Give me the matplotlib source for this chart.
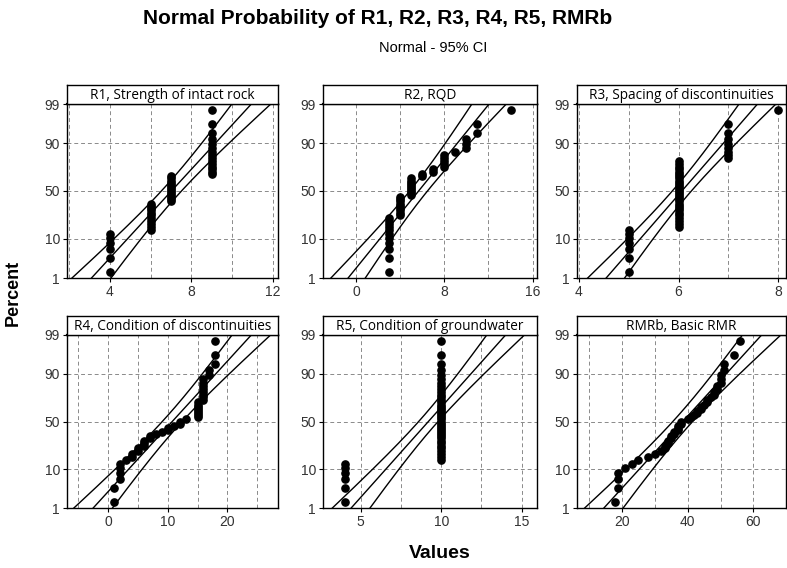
import numpy as np
import matplotlib
matplotlib.use("Agg")
import matplotlib.pyplot as plt
from statistics import NormalDist

nd = NormalDist()

# ---------------- data (value / count of observations) ----------------
titles = ["R1, Strength of intact rock", "R2, RQD", "R3, Spacing of discontinuities",
          "R4, Condition of discontinuities", "R5, Condition of groundwater", "RMRb, Basic RMR"]

r1_values = [4, 6, 7, 9]
r1_counts = [6, 11, 13, 15]
r2_values = [3, 4, 5, 6, 7, 8, 9, 10, 11, 14]
r2_counts = [11, 9, 9, 2, 2, 5, 1, 3, 2, 1]
r3_values = [5, 6, 7, 8]
r3_counts = [7, 29, 8, 1]
r4_values = [1, 2, 3, 4, 5, 6, 7, 8, 9, 10, 11, 12, 13, 15, 16, 17, 18]
r4_counts = [2, 4, 1, 2, 2, 3, 2, 1, 1, 2, 1, 2, 1, 8, 8, 2, 3]
r5_values = [4, 10]
r5_counts = [6, 39]
rmrb_values = [18, 19, 21, 23, 25, 28, 30, 32, 33, 34, 35, 36, 37, 38, 40, 41, 42,
               43, 44, 45, 46, 47, 48, 49, 50, 51, 54, 56]
rmrb_counts = [1, 3, 1, 1, 1, 1, 1, 1, 2, 2, 2, 2, 3, 2, 1, 1, 1,
               2, 2, 1, 2, 1, 2, 2, 3, 2, 1, 1]

series = [(r1_values, r1_counts), (r2_values, r2_counts), (r3_values, r3_counts),
          (r4_values, r4_counts), (r5_values, r5_counts), (rmrb_values, rmrb_counts)]

percent_ticks = [1, 10, 50, 90, 99]
xtick_labels = [[4, 8, 12], [0, 8, 16], [4, 6, 8], [0, 10, 20], [5, 10, 15], [20, 40, 60]]
xlims = [(1.9, 12.25), (-3.0, 16.4), (3.96, 8.16), (-6.9, 28.5), (2.65, 15.95), (6.4, 69.9)]
xgrid_step = [2, 4, 1, 5, 2.5, 10]

# ---------------- layout ----------------
W, H = 787, 568
fig = plt.figure(figsize=(W / 100, H / 100), dpi=100)
cols = [(67, 278), (323, 537), (577, 786)]
rows = [(104, 278), (335, 508)]
strip_h = 19

zlo, zhi = nd.inv_cdf(0.01), nd.inv_cdf(0.99)
zz = np.linspace(zlo - 0.05, zhi + 0.05, 200)
tick_font = dict(family="Liberation Sans", size=10, color="#333333")

for k, (vals, cnts) in enumerate(series):
    r, c = divmod(k, 3)
    x0, x1 = cols[c]
    yt, yb = rows[r]
    ax = fig.add_axes([x0 / W, 1 - yb / H, (x1 - x0) / W, (yb - yt) / H])
    data = np.repeat(vals, cnts).astype(float)
    n = len(data)
    mu, s = data.mean(), data.std(ddof=1)
    i = np.arange(1, n + 1)
    zp = np.array([nd.inv_cdf(p) for p in (i - 0.3) / (n + 0.4)])
    fit = mu + zz * s
    half = 1.96 * s * np.sqrt(1 / n + zz ** 2 / (2 * (n - 1)))
    for line in (fit - half, fit, fit + half):
        ax.plot(line, zz, color="black", lw=1.0, zorder=3)
    ax.plot(np.sort(data), zp, "o", color="black", ms=5.2, zorder=4)

    ax.set_xlim(*xlims[k])
    ax.set_ylim(zlo, zhi)
    g0 = np.ceil(xlims[k][0] / xgrid_step[k]) * xgrid_step[k]
    for gx in np.arange(g0, xlims[k][1], xgrid_step[k]):
        ax.axvline(gx, color="#8a8a8a", lw=0.7, ls=(0, (4, 3)), zorder=1)
    for p in [10, 50, 90]:
        ax.axhline(nd.inv_cdf(p / 100), color="#8a8a8a", lw=0.7, ls=(0, (4, 3)), zorder=1)

    ax.set_xticks(xtick_labels[k])
    ax.set_xticklabels([str(v) for v in xtick_labels[k]], fontdict=tick_font)
    ax.set_yticks([nd.inv_cdf(p / 100) for p in percent_ticks])
    ax.set_yticklabels([str(p) for p in percent_ticks], fontdict=tick_font)
    ax.tick_params(direction="out", length=3, width=0.8, color="black", pad=2)
    for sp in ax.spines.values():
        sp.set_color("black")
        sp.set_linewidth(1.0)
    ax.spines["top"].set_linewidth(1.6)

    sax = fig.add_axes([x0 / W, 1 - yt / H, (x1 - x0) / W, strip_h / H])
    sax.set_xticks([]); sax.set_yticks([])
    for sp in sax.spines.values():
        sp.set_color("black"); sp.set_linewidth(1.0)
    sax.text(0.5, 0.45, titles[k], ha="center", va="center", fontsize=9.8,
             family="Open Sans", color="black", transform=sax.transAxes)

fig.text(378 / W, 1 - 19 / H, "Normal Probability of R1, R2, R3, R4, R5, RMRb",
         ha="center", va="center", fontsize=15, fontweight="bold", family="Liberation Sans")
fig.text(433 / W, 1 - 48 / H, "Normal - 95% CI", ha="center", va="center",
         fontsize=10.5, family="Liberation Sans")
fig.text(13 / W, 1 - 293 / H, "Percent", rotation=90, ha="center", va="center",
         fontsize=13, fontweight="bold", family="Liberation Sans")
fig.text(440 / W, 1 - 553 / H, "Values", ha="center", va="center",
         fontsize=14, fontweight="bold", family="Liberation Sans")

fig.savefig("out.png", dpi=100, facecolor="white")
